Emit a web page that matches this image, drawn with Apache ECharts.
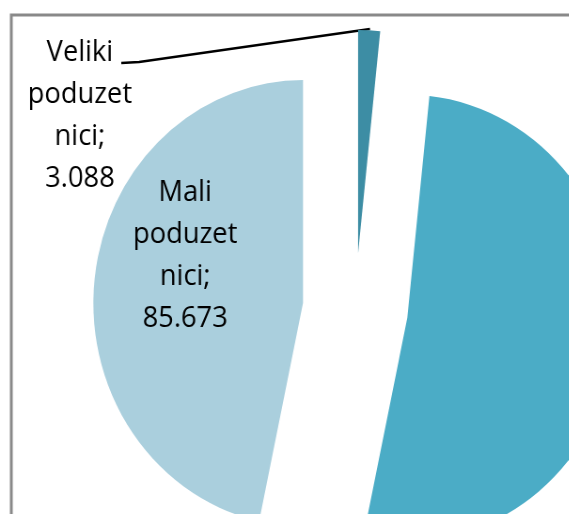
<!DOCTYPE html>
<html>
<head>
<meta charset="utf-8">
<script src="https://cdn.jsdelivr.net/npm/echarts@6/dist/echarts.min.js"></script>
<style>
html, body { margin: 0; padding: 0; background: #fff; overflow: hidden; }
/* the original pie is slightly squeezed horizontally */
#main { width: 605px; height: 514px; transform: scaleX(0.94); transform-origin: 0 0; }
</style>
</head>
<body>
<div id="main"></div>
<script>
var names = ['Veliki poduzetnici', 'Srednji poduzetnici', 'Mali poduzetnici'];
var values = [3.088, 94.9, 85.673];
var colors = ['#3D8DA4', '#4BACC6', '#AACFDD'];

var chartDom = document.getElementById('main');
var myChart = echarts.init(chartDom);

var center = [378, 309];

// exploded slices
var pieData = names.map(function (n, i) {
  return { name: n, value: values[i], selected: true, itemStyle: { color: colors[i] } };
});

// same slices, invisible, only carrying the labels (selected state breaks labelLayout)
var labelData = names.map(function (n, i) {
  var item = { name: n, value: values[i] };
  if (i === 1) {
    item.label = { show: false };
    item.labelLine = { show: false };
  }
  if (i === 2) {
    item.label = { position: 'inside' };
    item.labelLine = { show: false };
  }
  return item;
});

var option = {
  animation: false,
  graphic: [{
    type: 'rect',
    z: -10,
    shape: { x: 12, y: 15, width: 800, height: 800 },
    style: { fill: 'none', stroke: '#898989', lineWidth: 3 }
  }],
  series: [{
    type: 'pie',
    center: center,
    radius: 223,
    startAngle: 90,
    clockwise: true,
    selectedMode: 'multiple',
    selectedOffset: 56,
    emphasis: { disabled: true },
    itemStyle: { borderWidth: 0 },
    label: { show: false },
    labelLine: { show: false },
    data: pieData
  }, {
    type: 'pie',
    center: center,
    radius: 223,
    startAngle: 90,
    clockwise: true,
    silent: true,
    selectedMode: false,
    avoidLabelOverlap: false,
    emphasis: { disabled: true },
    itemStyle: { color: 'rgba(0,0,0,0)', borderWidth: 0 },
    label: {
      show: true,
      color: '#000',
      fontFamily: 'Open Sans',
      fontSize: 29,
      lineHeight: 42,
      align: 'center',
      formatter: function (p) {
        return p.name.replace(' poduzetnici', '\npoduzet\nnici') + ';\n' + p.value.toFixed(3);
      }
    },
    labelLine: {
      show: true,
      lineStyle: { color: '#000', width: 2.5 }
    },
    labelLayout: function (p) {
      if (p.dataIndex === 0) {
        return {
          x: 85, y: 116, align: 'center', verticalAlign: 'middle',
          labelLinePoints: [[393.6, 29], [148, 62], [129, 63]]
        };
      }
      if (p.dataIndex === 2) {
        return { x: 197, y: 256, align: 'center', verticalAlign: 'middle' };
      }
    },
    data: labelData
  }]
};

option && myChart.setOption(option);
</script>
</body>
</html>
